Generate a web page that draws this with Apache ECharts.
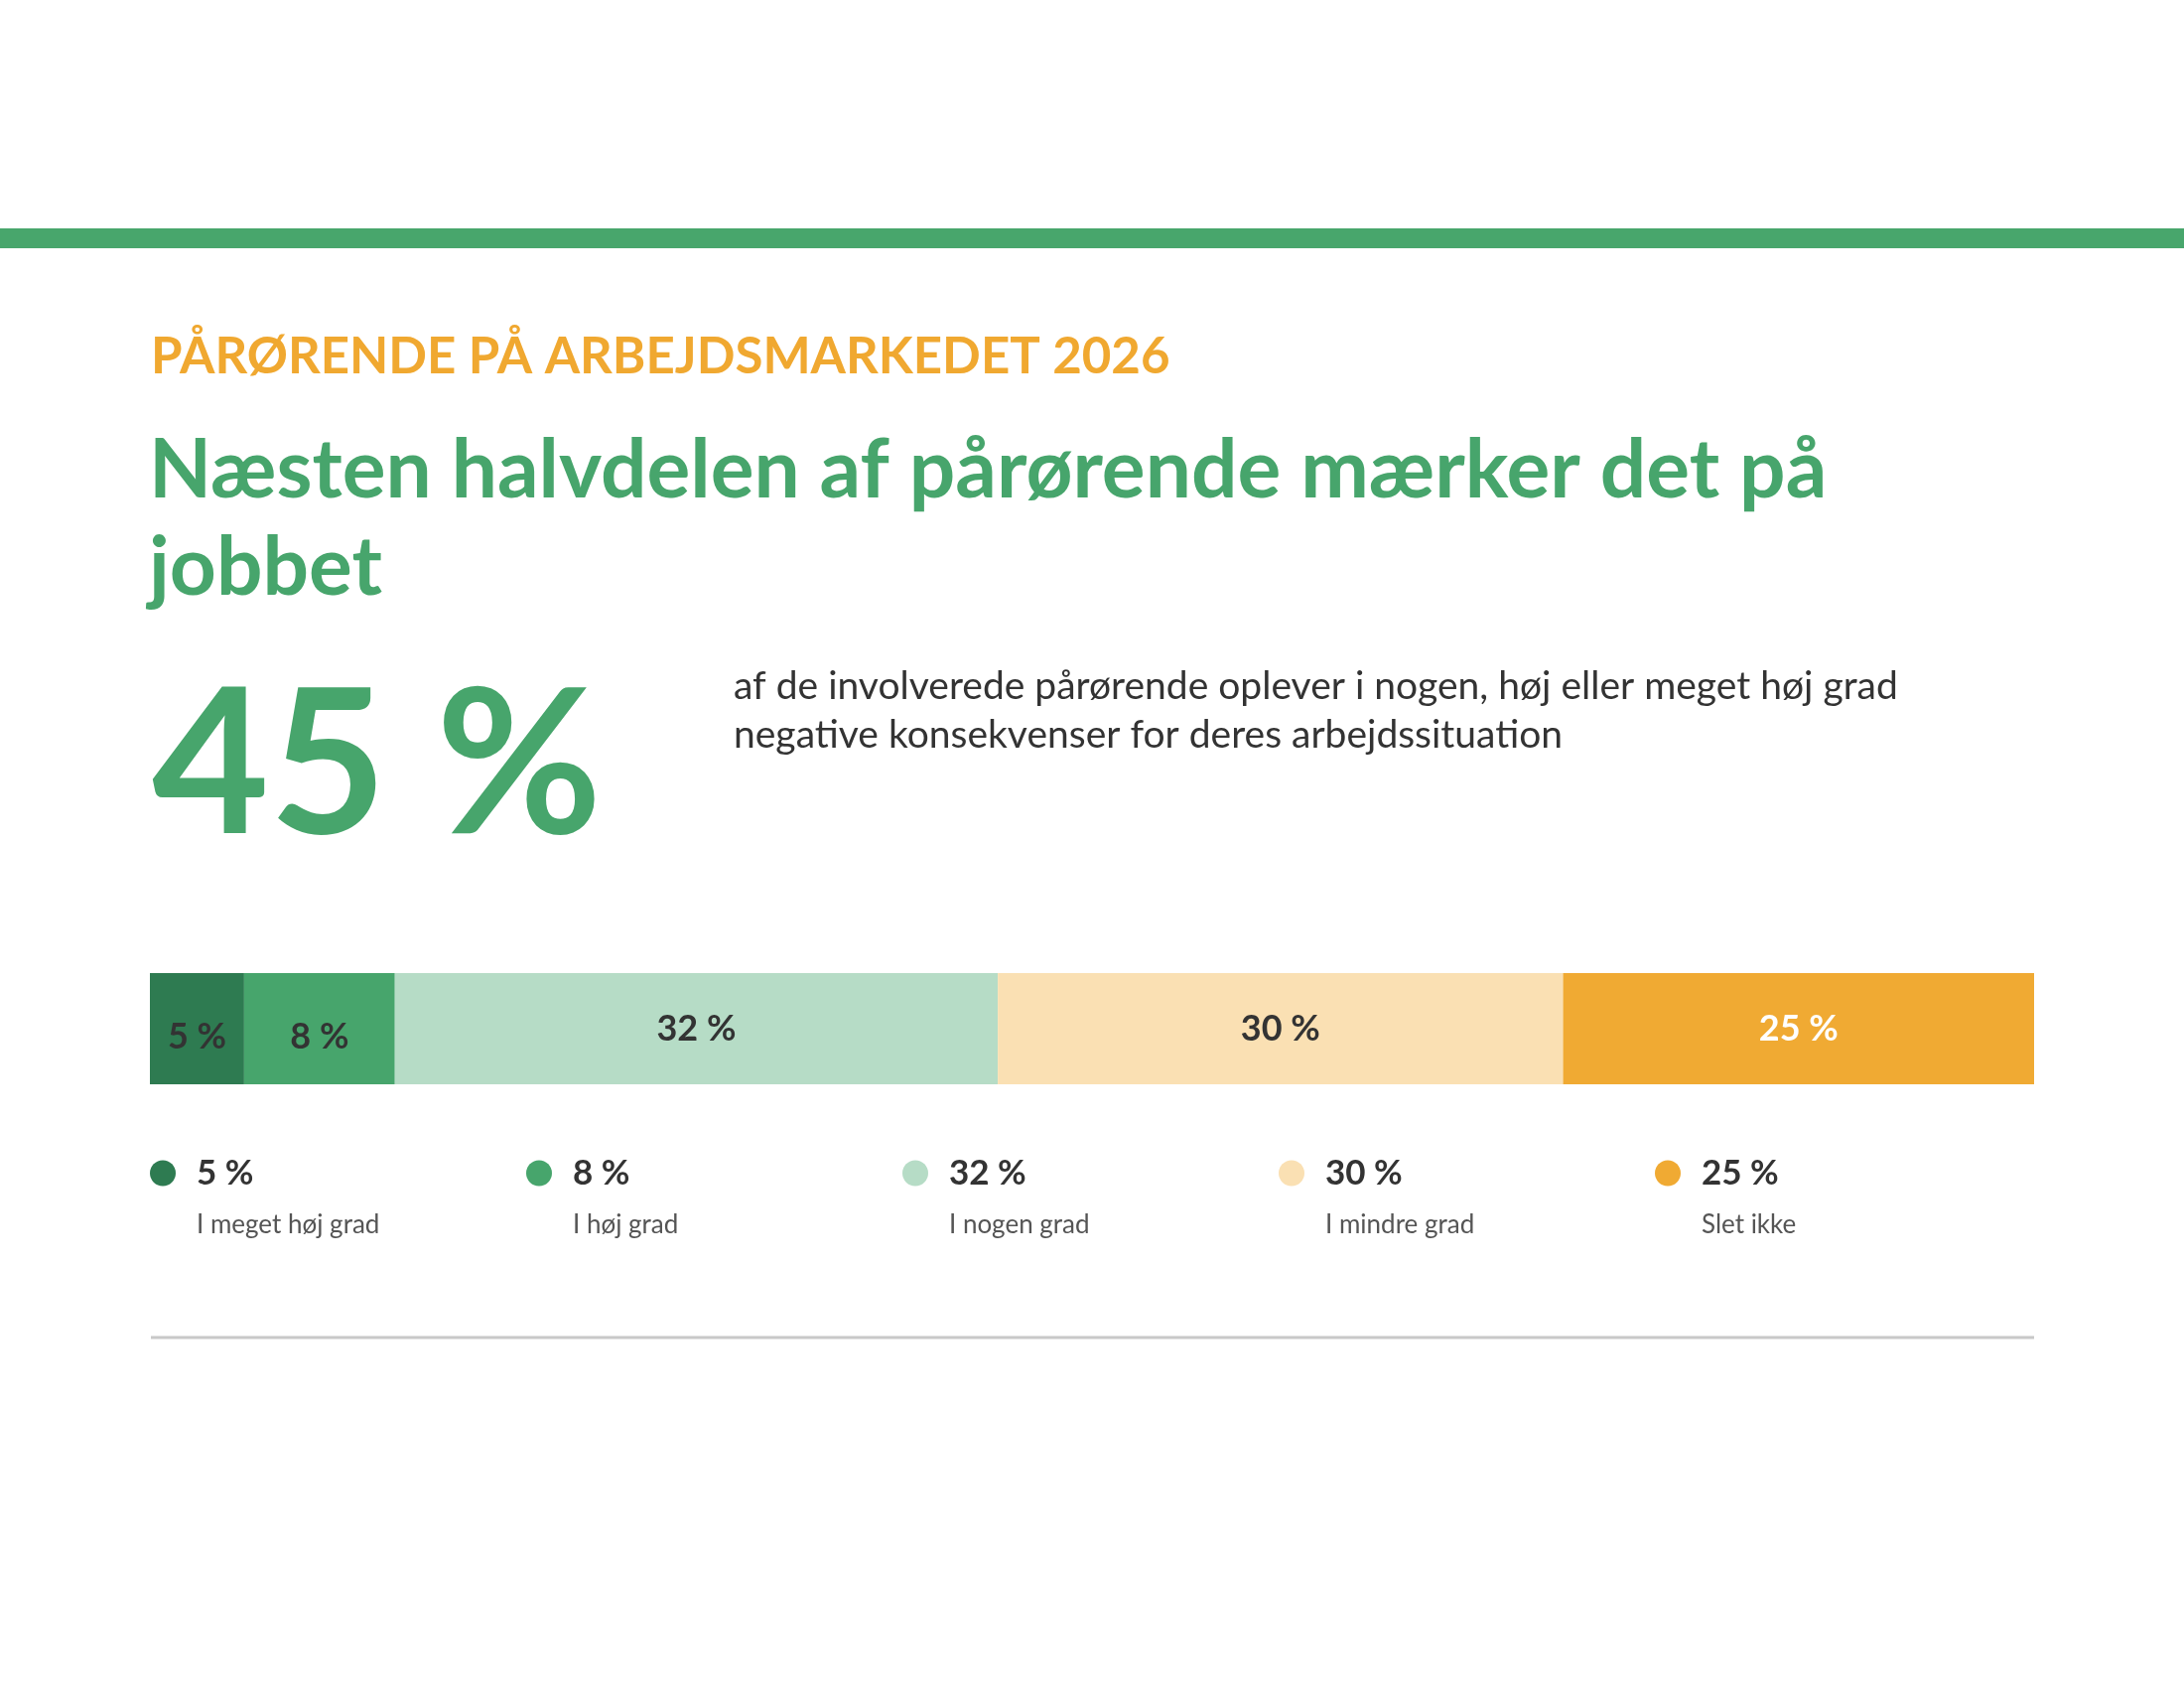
<!DOCTYPE html>
<html>
<head>
<meta charset="utf-8">
<title>Pårørende på arbejdsmarkedet 2026</title>
<script src="https://cdn.jsdelivr.net/npm/echarts@6/dist/echarts.min.js"></script>
<style>
  html, body { margin: 0; padding: 0; background: #fff; }
  #chart { width: 2200px; height: 1700px; }
</style>
</head>
<body>
<div id="chart"></div>
<script>
// Data
var categories = ['I meget høj grad', 'I høj grad', 'I nogen grad', 'I mindre grad', 'Slet ikke'];
var shares = [5, 8, 32, 30, 25];
var palette = ['#2e7b51', '#47a56c', '#b6dcc6', '#fae0b3', '#f0aa33'];

var kicker = 'PÅRØRENDE PÅ ARBEJDSMARKEDET 2026';
var headline = 'Næsten halvdelen af pårørende mærker det på\njobbet';
var description = 'af de involverede pårørende oplever i nogen, høj eller meget høj grad\nnegative konsekvenser for deres arbejdssituation';

// share that feels it at work (nogen, høj, meget høj grad)
var affected = shares[0] + shares[1] + shares[2];

document.addEventListener('DOMContentLoaded', function() {
  var dom = document.getElementById('chart');
  var chart = echarts.init(dom, null, {renderer: 'canvas'});
  var font = 'Lato, "Noto Sans", sans-serif';

  var series = categories.map(function(name, i) {
    return {
      name: name,
      type: 'bar',
      stack: 'total',
      barWidth: 112,
      itemStyle: {color: palette[i]},
      label: {
        show: true,
        position: 'inside',
        formatter: '{c} %',
        fontFamily: font,
        fontWeight: 'bold',
        fontSize: 36,
        color: i === categories.length - 1 ? '#ffffff' : '#333333',
        offset: i < 2 ? [0, 8] : [0, 0]
      },
      emphasis: {disabled: true},
      data: [shares[i]]
    };
  });

  var option = {
    animation: false,
    backgroundColor: '#ffffff',
    textStyle: {fontFamily: font},
    title: [
      {
        text: kicker,
        left: 152,
        top: 330,
        padding: 0,
        textStyle: {fontFamily: font, fontWeight: 'bold', fontSize: 51, lineHeight: 60, color: '#f0a830'}
      },
      {
        text: headline,
        left: 150,
        top: 426,
        padding: 0,
        textStyle: {fontFamily: font, fontWeight: 'bold', fontSize: 82, lineHeight: 98, color: '#47a56c'}
      },
      {
        text: affected + ' %',
        left: 153,
        top: 663,
        padding: 0,
        textStyle: {fontFamily: font, fontWeight: 'bold', fontSize: 204, lineHeight: 220, color: '#47a56c'}
      },
      {
        text: description,
        left: 739,
        top: 667,
        padding: 0,
        textStyle: {fontFamily: font, fontWeight: 'normal', fontSize: 39, lineHeight: 49, color: '#333333'}
      }
    ],
    grid: {left: 151, right: 151, top: 980, height: 112, containLabel: false},
    xAxis: {type: 'value', min: 0, max: 100, show: false},
    yAxis: {type: 'category', data: ['Andel'], show: false},
    legend: {
      data: categories,
      left: 151,
      top: 1164,
      padding: 0,
      itemWidth: 26,
      itemHeight: 26,
      itemGap: 32,
      icon: 'circle',
      selectedMode: false,
      formatter: function(name) {
        var i = categories.indexOf(name);
        return '{v|' + shares[i] + ' %}\n{l|' + name + '}';
      },
      textStyle: {
        padding: [52, 0, 0, 16],
        rich: {
          v: {fontFamily: font, fontWeight: 'bold', fontSize: 35, lineHeight: 52, width: 300, color: '#333333'},
          l: {fontFamily: font, fontSize: 26, lineHeight: 52, width: 300, color: '#555555'}
        }
      }
    },
    graphic: [
      // top band
      {type: 'rect', left: 0, top: 230, shape: {width: 2200, height: 20}, style: {fill: '#48a66c'}, silent: true},
      // divider under the legend
      {type: 'line', shape: {x1: 152, y1: 1347, x2: 2049, y2: 1347}, style: {stroke: '#c8c8c8', lineWidth: 3}, silent: true}
    ],
    series: series
  };

  chart.setOption(option);
});
</script>
</body>
</html>
